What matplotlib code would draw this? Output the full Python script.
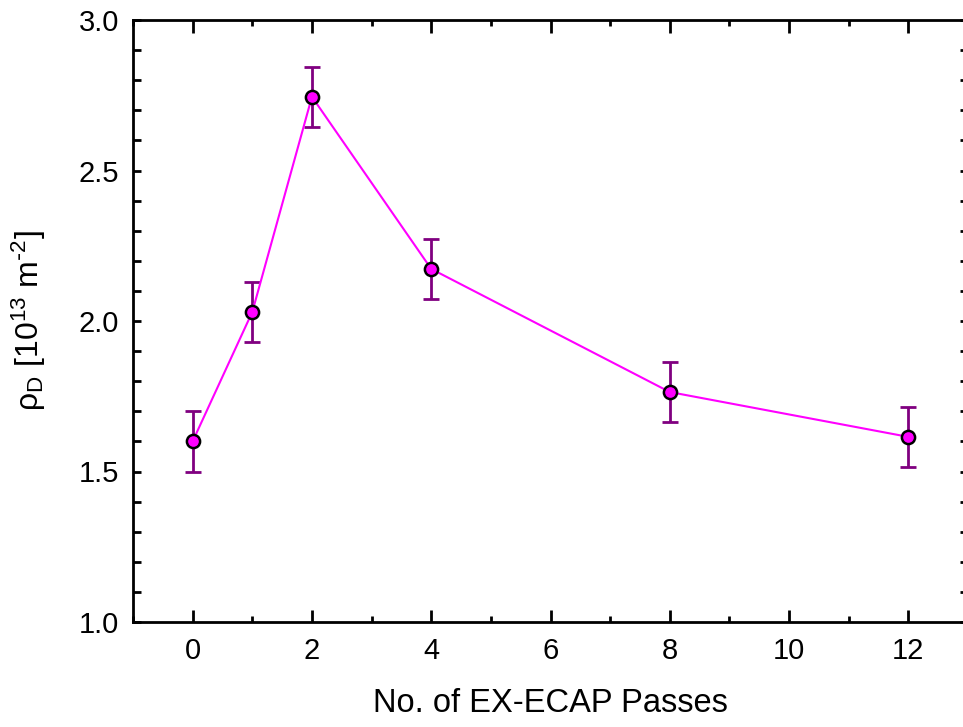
import numpy as np
import matplotlib
matplotlib.use("Agg")
import matplotlib.pyplot as plt
from matplotlib.ticker import MultipleLocator

# dislocation density vs number of EX-ECAP passes
passes = [0, 1, 2, 4, 8, 12]
rho_d = [1.60, 2.03, 2.745, 2.173, 1.764, 1.615]
rho_err = [0.10, 0.10, 0.10, 0.10, 0.10, 0.10]

plt.rcParams['font.family'] = ['Liberation Sans', 'DejaVu Sans']
plt.rcParams['mathtext.default'] = 'regular'

fig = plt.figure(figsize=(9.63, 7.27), dpi=100)
ax = fig.add_axes([133 / 963, 105 / 727, (968 - 133) / 963, (622 - 20) / 727])

ax.errorbar(passes, rho_d, yerr=rho_err, fmt='none', ecolor='#800080',
            elinewidth=2, capsize=6, capthick=2, zorder=2)
ax.plot(passes, rho_d, '-', color='#ff00ff', lw=1.5, zorder=3)
ax.plot(passes, rho_d, 'o', ms=9.5, mfc='#ff00ff', mec='black', mew=1.8,
        zorder=4)

ax.set_xlim(-1, 13)
ax.set_ylim(1.0, 3.0)
ax.xaxis.set_major_locator(MultipleLocator(2))
ax.xaxis.set_minor_locator(MultipleLocator(1))
ax.yaxis.set_major_locator(MultipleLocator(0.5))
ax.yaxis.set_minor_locator(MultipleLocator(0.1))
ax.yaxis.set_major_formatter(plt.FormatStrFormatter('%.1f'))

for s in ax.spines.values():
    s.set_linewidth(2)
ax.tick_params(which='both', direction='in', top=True, right=True, width=2,
               labelsize=21)
ax.tick_params(axis='x', which='major', length=9, pad=11)
ax.tick_params(axis='x', which='minor', length=4)
ax.tick_params(axis='y', which='both', length=6, pad=10)

ax.set_xlabel('No. of EX-ECAP Passes', fontsize=23.5, labelpad=16)
ax.set_ylabel(r'ρ$_D$ [10$^{13}$ m$^{\text{-}2}$]', fontsize=23, labelpad=22)

fig.savefig('out.png', dpi=100)
